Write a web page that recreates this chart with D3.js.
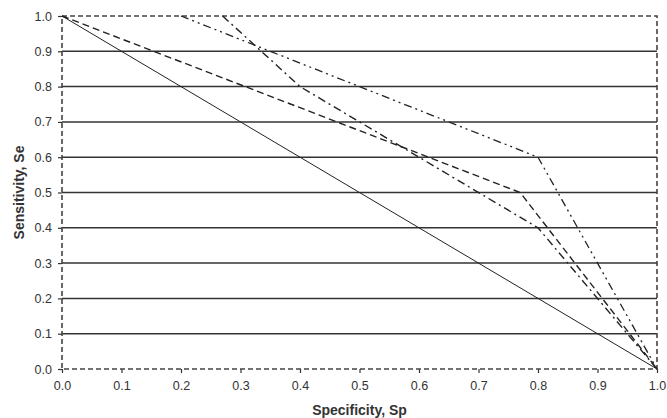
<!DOCTYPE html>
<html>
<head>
<meta charset="utf-8">
<script src="https://cdn.jsdelivr.net/npm/d3@7"></script>
<style>
  body { margin: 0; background: #fff; }
  text { font-family: "Liberation Sans", Arial, sans-serif; }
</style>
</head>
<body>
<div id="chart"></div>
<script>
// ROC-style curves: sensitivity against specificity
var chanceSp = [0, 1],
    chanceSe = [1, 0];
var dashSp = [0, 0.77, 1],
    dashSe = [1, 0.5, 0];
var dashDotSp = [0.27, 0.4, 0.8, 1],
    dashDotSe = [1, 0.8, 0.4, 0];
var dashDotDotSp = [0.2, 0.8, 1],
    dashDotDotSe = [1, 0.6, 0];
var tickValues = [0, 0.1, 0.2, 0.3, 0.4, 0.5, 0.6, 0.7, 0.8, 0.9, 1.0];

var W = 667, H = 418;
var margin = {top: 16, right: 10, bottom: 49, left: 62},
    width = W - margin.left - margin.right,
    height = H - margin.top - margin.bottom;

var x = d3.scaleLinear().domain([0, 1]).range([0, width]);
var y = d3.scaleLinear().domain([0, 1]).range([height, 0]);

var svg = d3.select("#chart").append("svg")
    .attr("width", W)
    .attr("height", H)
  .append("g")
    .attr("transform", "translate(" + margin.left + "," + margin.top + ")");

// horizontal gridlines
svg.selectAll(".grid")
    .data(tickValues.slice(1, -1))
  .enter().append("line")
    .attr("x1", 0).attr("x2", width)
    .attr("y1", function(d){ return y(d); })
    .attr("y2", function(d){ return y(d); })
    .style("stroke", "#333")
    .style("stroke-width", 1.5);

// axes
var xAxis = svg.append("g")
    .attr("transform", "translate(0," + height + ")")
    .call(d3.axisBottom(x).tickValues(tickValues).tickSize(4).tickPadding(8)
        .tickFormat(d3.format(".1f")));
var yAxis = svg.append("g")
    .call(d3.axisLeft(y).tickValues(tickValues).tickSize(4).tickPadding(6)
        .tickFormat(d3.format(".1f")));
[xAxis, yAxis].forEach(function(a){
    a.select(".domain").remove();
    a.selectAll(".tick line").style("stroke", "#333").style("stroke-width", 1.2);
    a.selectAll(".tick text")
        .style("font-family", "'Liberation Sans', Arial, sans-serif")
        .style("font-size", "12.5px")
        .style("fill", "#333");
});

// dashed plot-area border
svg.append("rect")
    .attr("x", 0).attr("y", 0)
    .attr("width", width).attr("height", height)
    .style("fill", "none")
    .style("stroke", "#444")
    .style("stroke-width", 1.6)
    .style("stroke-dasharray", "5,3");

var line = d3.line()
    .x(function(d){ return x(d[0]); })
    .y(function(d){ return y(d[1]); });

var series = [
    {sp: chanceSp, se: chanceSe, dash: null, w: 1},
    {sp: dashSp, se: dashSe, dash: "7,4", w: 1.4},
    {sp: dashDotSp, se: dashDotSe, dash: "8,4,2,4", w: 1.4},
    {sp: dashDotDotSp, se: dashDotDotSe, dash: "8,4,2,4,2,4", w: 1.3}
];

series.forEach(function(s){
    svg.append("path")
        .datum(d3.zip(s.sp, s.se))
        .attr("d", line)
        .style("fill", "none")
        .style("stroke", "#222")
        .style("stroke-width", s.w)
        .style("stroke-dasharray", s.dash);
});

// axis titles
svg.append("text")
    .attr("x", width / 2)
    .attr("y", height + 46)
    .style("text-anchor", "middle")
    .style("font-size", "14px")
    .style("font-weight", "bold")
    .style("fill", "#333")
    .text("Specificity, Sp");

svg.append("text")
    .attr("transform", "rotate(-90)")
    .attr("x", -height / 2)
    .attr("y", -38)
    .style("text-anchor", "middle")
    .style("font-size", "14px")
    .style("font-weight", "bold")
    .style("fill", "#333")
    .text("Sensitivity, Se");
</script>
</body>
</html>
